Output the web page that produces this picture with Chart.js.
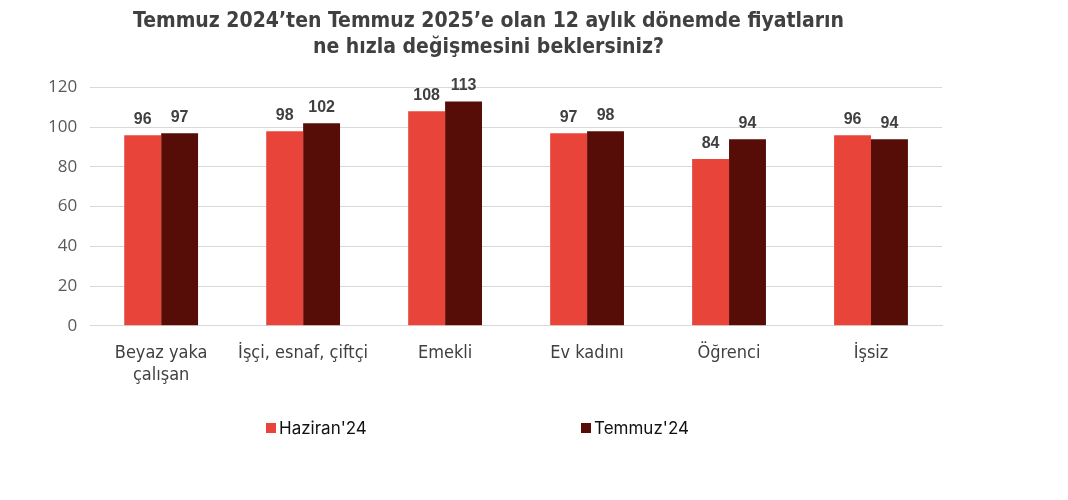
<!DOCTYPE html>
<html><head><meta charset="utf-8">
<script src="https://cdn.jsdelivr.net/npm/chart.js@4"></script>
<style>html,body{margin:0;padding:0;background:#fff}#wrap{width:1068px;height:500px}</style>
</head><body><div id="wrap"><canvas id="c"></canvas></div>
<script>
const categories = [['Beyaz yaka','çalışan'], 'İşçi, esnaf, çiftçi', 'Emekli', 'Ev kadını', 'Öğrenci', 'İşsiz'];
const haziran = [96, 98, 108, 97, 84, 96];
const temmuz = [97, 102, 113, 98, 94, 94];
const yTicks = [0, 20, 40, 60, 80, 100, 120];
const titleLines = ['Temmuz 2024’ten Temmuz 2025’e olan 12 aylık dönemde fiyatların', 'ne hızla değişmesini beklersiniz?'];

const valueLabels = {
  id: 'valueLabels',
  afterDatasetsDraw(chart) {
    const ctx = chart.ctx;
    ctx.save();
    ctx.font = 'bold 16px "Liberation Sans", Arial, sans-serif';
    ctx.fillStyle = '#404040';
    ctx.textAlign = 'center';
    ctx.textBaseline = 'alphabetic';
    chart.data.datasets.forEach((ds, i) => {
      chart.getDatasetMeta(i).data.forEach((bar, j) => {
        ctx.fillText(String(ds.data[j]), bar.x, bar.y - 11);
      });
    });
    ctx.restore();
  }
};

const bottomLegend = {
  id: 'bottomLegend',
  afterDraw(chart) {
    const ctx = chart.ctx;
    ctx.save();
    ctx.font = '17px Inter, "Noto Sans", sans-serif';
    ctx.textBaseline = 'middle';
    ctx.textAlign = 'left';
    const y = 428;
    const starts = [266, 581];
    chart.data.datasets.forEach((ds, i) => {
      const x = starts[i];
      ctx.fillStyle = ds.backgroundColor;
      ctx.fillRect(x, y - 5, 10, 10);
      ctx.fillStyle = '#111';
      ctx.fillText(ds.label, x + 13, y + 1);
    });
    ctx.restore();
  }
};

new Chart(document.getElementById('c'), {
  type: 'bar',
  data: {
    labels: categories,
    datasets: [
      { label: "Haziran'24", data: haziran, backgroundColor: '#E8443A', barPercentage: 1, categoryPercentage: 0.52 },
      { label: "Temmuz'24", data: temmuz, backgroundColor: '#560D08', barPercentage: 1, categoryPercentage: 0.52 }
    ]
  },
  options: {
    responsive: true, maintainAspectRatio: false, animation: false,
    layout: { padding: { left: 35, right: 126, top: 8, bottom: 105 } },
    plugins: {
      title: { display: true, text: titleLines, color: '#404040',
        font: { family: '"Liberation Sans Narrow", "DejaVu Sans Condensed", sans-serif', size: 21, weight: 'bold', lineHeight: 1.25 },
        padding: { top: 0, bottom: 27 } },
      legend: { display: false },
      tooltip: { enabled: false }
    },
    scales: {
      x: {
        grid: { display: false },
        border: { color: '#d9d9d9', width: 1 },
        ticks: { color: '#404040', padding: 9, maxRotation: 0,
          font: { family: '"Liberation Sans Narrow", "DejaVu Sans Condensed", sans-serif', size: 18, lineHeight: 1.2 } }
      },
      y: {
        min: 0, max: 120,
        afterBuildTicks(axis) { axis.ticks = yTicks.map(v => ({ value: v })); },
        grid: { color: '#d9d9d9', lineWidth: 1, drawTicks: false },
        border: { display: false },
        ticks: { color: '#595959', padding: 13, font: { family: '"Open Sans", "Noto Sans", sans-serif', size: 17 } }
      }
    }
  },
  plugins: [valueLabels, bottomLegend]
});
</script></body></html>
